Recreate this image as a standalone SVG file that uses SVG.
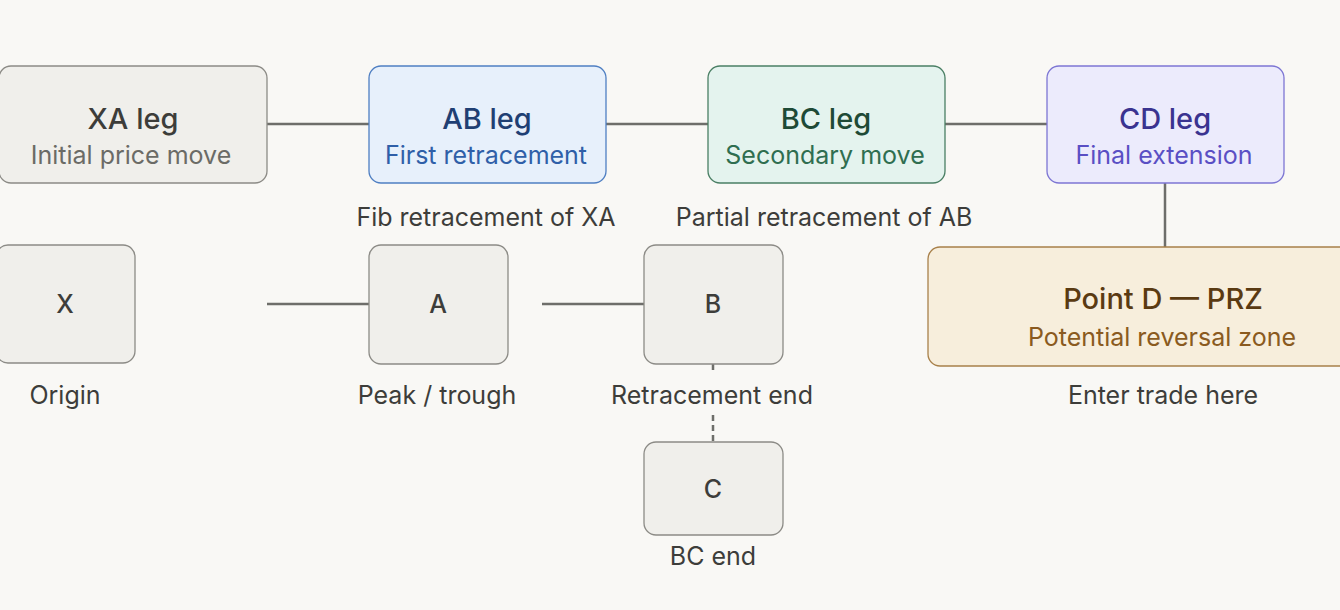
<svg xmlns="http://www.w3.org/2000/svg" width="1340" height="610" viewBox="0 0 1340 610">
<style>
text{font-family:Inter,"Liberation Sans",sans-serif;text-anchor:middle}
.t{font-size:29px;font-weight:500}
.s{font-size:25px}
.l{font-size:25px;fill:#3d3d3a}
.p{font-size:25px;fill:#3d3d3a;font-weight:500}
.gray rect{fill:#f0efeb;stroke:#8c8b86;stroke-width:1.3}
.gray .t{fill:#3d3d3a}.gray .s{fill:#6b6b66}
.conn line{stroke:#6e6e6a;stroke-width:2.5}
</style>
<rect width="1340" height="610" fill="#f9f8f5"/>
<g class="conn" id="connectors">
<line x1="267" y1="124" x2="369" y2="124"/>
<line x1="606" y1="124" x2="708" y2="124"/>
<line x1="945" y1="124" x2="1047" y2="124"/>
<line x1="1165" y1="183" x2="1165" y2="247"/>
<line x1="267" y1="304" x2="369" y2="304"/>
<line x1="542" y1="304" x2="644" y2="304"/>
<line x1="713" y1="364" x2="713" y2="373" stroke-dasharray="6 4"/>
<line x1="713" y1="415" x2="713" y2="442" stroke-dasharray="6 4"/>
</g>
<g id="xa" class="gray">
<rect x="-1" y="66" width="268" height="117" rx="12"/>
<text class="t" x="133" y="129">XA leg</text>
<text class="s" x="131" y="164">Initial price move</text>
</g>
<g id="ab">
<rect x="369" y="66" width="237" height="117" rx="12" fill="#e7f0fb" stroke="#4f7fc2" stroke-width="1.3"/>
<text class="t" x="487" y="129" fill="#1f3f73">AB leg</text>
<text class="s" x="486" y="164" fill="#2f5fa8">First retracement</text>
</g>
<g id="bc">
<rect x="708" y="66" width="237" height="117" rx="12" fill="#e4f3ee" stroke="#4a7f64" stroke-width="1.3"/>
<text class="t" x="826" y="129" fill="#1e4a36">BC leg</text>
<text class="s" x="825" y="164" fill="#2f6e50">Secondary move</text>
</g>
<g id="cd">
<rect x="1047" y="66" width="237" height="117" rx="12" fill="#ecebfc" stroke="#7d76d3" stroke-width="1.3"/>
<text class="t" x="1165" y="129" fill="#3a3390">CD leg</text>
<text class="s" x="1164" y="164" fill="#5a4fc4">Final extension</text>
</g>
<text class="l" x="486" y="226">Fib retracement of XA</text>
<text class="l" x="824" y="226">Partial retracement of AB</text>
<g id="x" class="gray">
<rect x="-4" y="245" width="139" height="118" rx="12"/>
<text class="p" x="65" y="313">X</text>
</g>
<text class="l" x="65" y="404">Origin</text>
<g id="a" class="gray">
<rect x="369" y="245" width="139" height="119" rx="12"/>
<text class="p" x="438" y="313">A</text>
</g>
<text class="l" x="437" y="404">Peak / trough</text>
<g id="b" class="gray">
<rect x="644" y="245" width="139" height="119" rx="12"/>
<text class="p" x="713" y="313">B</text>
</g>
<text class="l" x="712" y="404">Retracement end</text>
<g id="c" class="gray">
<rect x="644" y="442" width="139" height="93" rx="12"/>
<text class="p" x="713" y="498">C</text>
</g>
<text class="l" x="713" y="565">BC end</text>
<g id="d">
<rect x="928" y="247" width="470" height="119" rx="12" fill="#f7eedc" stroke="#a8804a" stroke-width="1.3"/>
<text class="t" x="1163" y="309" fill="#5a3a12">Point D — PRZ</text>
<text class="s" x="1162" y="346" fill="#8a5a20">Potential reversal zone</text>
</g>
<text class="l" x="1163" y="404">Enter trade here</text>
</svg>
